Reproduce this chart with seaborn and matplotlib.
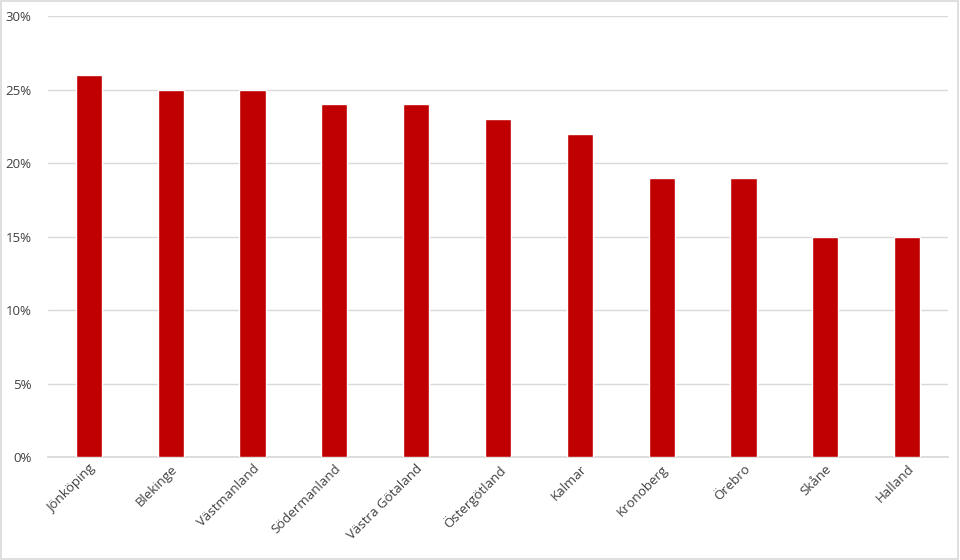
import matplotlib
matplotlib.use("Agg")
import matplotlib.pyplot as plt
import seaborn as sns
import pandas as pd
from matplotlib.ticker import PercentFormatter

regions = ["Jönköping", "Blekinge", "Västmanland", "Södermanland", "Västra Götaland",
           "Östergötland", "Kalmar", "Kronoberg", "Örebro", "Skåne", "Halland"]
shares = [26, 25, 25, 24, 24, 23, 22, 19, 19, 15, 15]
y_ticks = [0, 5, 10, 15, 20, 25, 30]

sns.set_theme(style="white")
plt.rcParams['font.family'] = ['Open Sans', 'DejaVu Sans']

df = pd.DataFrame({"region": regions, "share": shares})

fig = plt.figure(figsize=(9.6, 5.6), dpi=100)
ax = fig.add_axes([0.05, 0.184, 0.9375, 0.787])
sns.barplot(data=df, x="region", y="share", color="#C00000", saturation=1,
            width=0.32, ax=ax, zorder=3)
ax.set_ylim(0, 30)
ax.set_yticks(y_ticks)
ax.yaxis.set_major_formatter(PercentFormatter(decimals=0))
ax.grid(axis="y", color="#D9D9D9", linewidth=1, zorder=0)
ax.set_axisbelow(True)
for s in ["top", "right", "left"]:
    ax.spines[s].set_visible(False)
ax.spines["bottom"].set_color("#D9D9D9")
ax.set_xlabel("")
ax.set_ylabel("")
ax.tick_params(axis="both", length=0, labelsize=9.5, colors="#404040")
ax.tick_params(axis="y", pad=12)
ax.tick_params(axis="x", pad=4)
plt.setp(ax.get_xticklabels(), rotation=45, ha="right", rotation_mode="anchor")
ax.set_xlim(-0.5, len(regions) - 0.5)

fig.patches.append(plt.Rectangle((0.001, 0.002), 0.997, 0.996, transform=fig.transFigure,
                                 fill=False, edgecolor="#D9D9D9", linewidth=1.2))
fig.savefig("out.png", dpi=100)
